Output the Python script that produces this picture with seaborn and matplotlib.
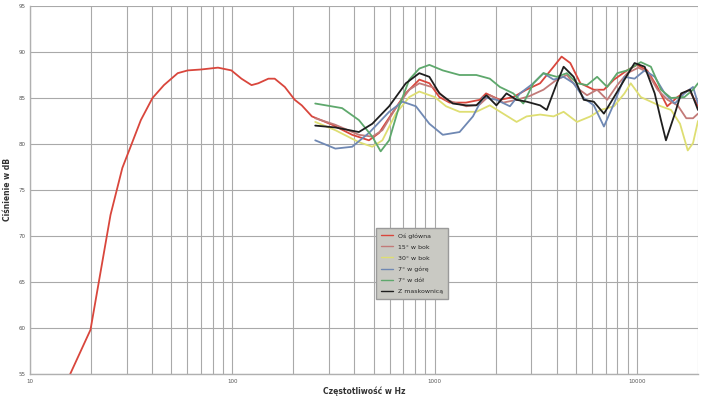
import numpy as np
import pandas as pd
import matplotlib
matplotlib.use("Agg")
import matplotlib.pyplot as plt
import matplotlib.ticker as mticker
import seaborn as sns

# ---- data ----
series_names = ["Oś główna", "15° w bok", "30° w bok", "7° w górę", "7° w dół", "Z maskownicą"]
series_colors = ["#d9463c", "#c27a78", "#dede72", "#6f88b3", "#5ea86c", "#1e1e1e"]

f_main = [15.8, 19.9, 25.0, 28.6, 31.4, 35.3, 40.3, 45.9, 53.7, 60.2, 70.1, 84.9, 98.9, 110.9, 124.4,
          134.3, 150.7, 161.9, 181.6, 203.4, 220.3, 247.2, 310.9, 390.8, 473.2, 530.9, 618.3, 717.7,
          839.6, 942.2, 1055, 1184, 1427, 1668, 1793, 2098, 2444, 2837, 3318, 3866, 4236, 4677, 5245,
          6111, 6856, 7692, 8918, 10000, 11220, 12590, 14090, 15820, 18100, 20000]
db_main = [55.0, 59.8, 72.3, 77.4, 79.7, 82.6, 85.0, 86.4, 87.7, 88.0, 88.1, 88.3, 88.0, 87.1, 86.4,
           86.6, 87.1, 87.1, 86.2, 84.8, 84.2, 83.0, 82.1, 81.0, 80.4, 81.2, 83.4, 85.5,
           87.0, 86.6, 85.1, 84.5, 84.5, 84.8, 85.5, 84.8, 85.1, 85.9, 86.6, 88.4, 89.5, 88.8, 86.6,
           85.9, 85.9, 87.0, 88.0, 88.6, 88.0, 86.2, 84.1, 85.1, 85.9, 84.1]

f_15 = [256.7, 321.7, 422.0, 491.5, 551.2, 642.0, 748.4, 839.2, 1000, 1138, 1431, 1668, 1872, 2179,
        2538, 2935, 3446, 4013, 4500, 5047, 5658, 6346, 7117, 7980, 8946, 10150, 11250, 12620, 14150,
        15870, 17500, 18900, 20000]
db_15 = [82.8, 82.1, 81.0, 80.8, 81.5, 83.9, 85.9, 86.6, 86.1, 84.8, 84.1, 84.3, 85.3, 84.5,
         84.8, 85.2, 85.9, 87.0, 87.5, 86.1, 85.3, 85.9, 84.8, 86.4, 87.7, 88.3, 87.8, 85.9, 84.8,
         84.2, 82.8, 82.8, 83.3]

f_30 = [256.7, 322.8, 422.0, 491.5, 551.2, 642.0, 748.4, 839.2, 1000, 1138, 1327, 1605, 1872, 2179,
        2538, 2846, 3318, 3866, 4334, 5047, 5883, 6599, 7692, 8665, 9305, 10430, 11700, 13120, 14720,
        16300, 17800, 18900, 20000]
db_30 = [82.4, 81.5, 80.2, 79.7, 80.4, 83.3, 85.1, 85.7, 85.1, 84.1, 83.5, 83.5, 84.2, 83.3,
         82.4, 83.0, 83.2, 83.0, 83.5, 82.4, 83.0, 83.7, 84.1, 85.5, 86.6, 85.1, 84.6, 84.1, 83.7,
         82.2, 79.3, 80.1, 82.5]

f_up = [256.7, 322.8, 390.8, 473.2, 595.3, 693.0, 807.2, 941.0, 1096, 1327, 1545, 1733, 2018, 2353,
        2639, 3073, 3446, 3866, 4334, 4860, 5450, 6111, 6856, 7692, 8665, 9717, 10900, 12220, 13700,
        15370, 17130, 18900, 20000]
db_up = [80.4, 79.5, 79.7, 81.2, 83.5, 84.6, 84.1, 82.2, 81.0, 81.3, 83.0, 85.1, 84.8, 84.1,
         85.5, 86.6, 87.7, 87.0, 87.3, 86.6, 85.0, 84.2, 81.9, 84.4, 87.3, 87.1, 88.0, 87.3, 85.5,
         84.4, 85.5, 86.2, 84.4]

f_down = [256.7, 348.5, 422.0, 491.5, 540.6, 595.3, 667.5, 748.4, 839.2, 941.0, 1096, 1327, 1605, 1872,
          2099, 2444, 2740, 3073, 3446, 4013, 4500, 5047, 5658, 6346, 7117, 7980, 8946, 10430, 11700,
          13120, 14720, 17130, 18900, 20000]
db_down = [84.4, 83.9, 82.6, 80.8, 79.2, 80.4, 84.1, 87.0, 88.2, 88.6, 88.0, 87.5, 87.5, 87.1,
           86.2, 85.5, 84.4, 86.6, 87.7, 87.3, 87.7, 86.6, 86.4, 87.3, 86.2, 87.7, 88.0, 88.9, 88.4,
           85.9, 85.0, 85.1, 85.9, 86.6]

f_grille = [256.7, 322.8, 422.0, 491.5, 595.3, 719.8, 839.2, 941.0, 1055, 1229, 1431, 1605, 1800, 2018,
            2263, 2538, 2846, 3318, 3579, 4013, 4334, 4860, 5450, 6111, 6856, 7692, 8665, 9717, 10900,
            12220, 13120, 13890, 15370, 16500, 18300, 20000]
db_grille = [82.0, 81.8, 81.3, 82.2, 84.1, 86.6, 87.7, 87.3, 85.5, 84.4, 84.2, 84.2, 85.3, 84.2,
             85.5, 84.8, 84.6, 84.2, 83.7, 86.6, 88.4, 87.3, 84.8, 84.6, 83.3, 85.1, 87.0, 88.8, 88.4,
             85.5, 82.6, 80.4, 83.3, 85.5, 85.9, 83.7]

y_ticks = [55, 60, 65, 70, 75, 80, 85, 90, 95]
x_ticks = [10, 100, 1000, 10000]

# ---- build long-form table ----
all_f = [f_main, f_15, f_30, f_up, f_down, f_grille]
all_db = [db_main, db_15, db_30, db_up, db_down, db_grille]
frames = []
for name, fv, dv in zip(series_names, all_f, all_db):
    frames.append(pd.DataFrame({"f": fv, "dB": dv, "series": name}))
df = pd.concat(frames, ignore_index=True)

sns.set_style("white")
plt.rcParams["font.family"] = ["DejaVu Sans"]

fig = plt.figure(figsize=(7.08, 3.97), dpi=100)
ax = fig.add_axes([30 / 708, 1 - 374 / 397, 668 / 708, 368 / 397])

sns.lineplot(data=df, x="f", y="dB", hue="series", hue_order=series_names,
             palette=dict(zip(series_names, series_colors)), estimator=None,
             sort=True, linewidth=1.3, ax=ax)

ax.set_xscale("log")
ax.set_xlim(10, 20000)
ax.set_ylim(55, 95)
ax.set_yticks(y_ticks)
ax.set_xticks(x_ticks)
ax.xaxis.set_minor_locator(mticker.LogLocator(base=10, subs=np.arange(2, 10)))
ax.xaxis.set_major_formatter(mticker.FuncFormatter(lambda v, p: f"{int(v)}"))
ax.xaxis.set_minor_formatter(mticker.NullFormatter())
ax.grid(True, which="major", axis="both", color="#a9a9a9", linewidth=0.8)
ax.grid(True, which="minor", axis="x", color="#a9a9a9", linewidth=0.8)
ax.set_axisbelow(True)
ax.tick_params(axis="both", which="both", labelsize=4, colors="#555555", length=2, width=0.6, pad=1.5)
for s in ["top", "right"]:
    ax.spines[s].set_visible(False)
for s in ["left", "bottom"]:
    ax.spines[s].set_color("#b0b0b0")
    ax.spines[s].set_linewidth(1.0)

ax.set_xlabel("Częstotliwość w Hz", fontsize=5.5, fontweight="bold", color="#333333")
ax.set_ylabel("Ciśnienie w dB", fontsize=5.5, fontweight="bold", color="#333333")
ax.xaxis.set_label_coords(0.5, -0.034)
ax.yaxis.set_label_coords(-0.027, 0.5)

leg = ax.legend(loc="lower left", bbox_to_anchor=(0.513, 0.196), fontsize=4.5, frameon=True,
                facecolor="#c9c9c3", edgecolor="#9a9a9a", framealpha=1.0, fancybox=False,
                handlelength=2.0, labelspacing=0.9, borderpad=0.8)
for line in leg.get_lines():
    line.set_linewidth(1.0)

fig.savefig("out.png", dpi=100)
